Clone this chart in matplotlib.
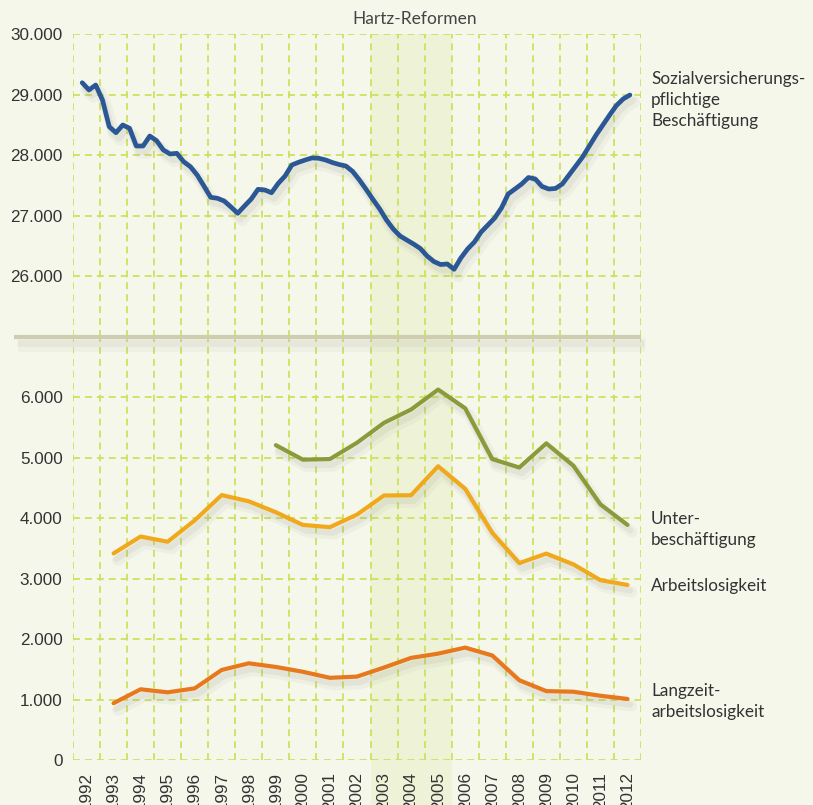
import numpy as np
import matplotlib
matplotlib.use("Agg")
import matplotlib.pyplot as plt
from matplotlib.ticker import FuncFormatter, MultipleLocator
from matplotlib.patches import Rectangle
from matplotlib.lines import Line2D
import matplotlib.patheffects as pe
import matplotlib.transforms as mtransforms

# ---------------- data ----------------
years = list(range(1992, 2013))
# Sozialversicherungspflichtige Beschäftigung (in Tausend), quarterly 1992Q1..2012Q2
beschaeftigung = [
    29203, 29083, 29165, 28917,
    28476, 28377, 28504, 28450,
    28157, 28157, 28322, 28245,
    28091, 28025, 28036, 27898,
    27815, 27678, 27496, 27309,
    27293, 27248, 27149, 27045,
    27165, 27281, 27441, 27430,
    27385, 27540, 27661, 27843,
    27888, 27926, 27960, 27954,
    27926, 27884, 27851, 27826,
    27736, 27595, 27438, 27273,
    27116, 26934, 26785, 26670,
    26603, 26537, 26463, 26339,
    26248, 26198, 26207, 26119,
    26306, 26455, 26570, 26736,
    26851, 26967, 27132, 27364,
    27446, 27529, 27636, 27612,
    27488, 27446, 27455, 27529,
    27678, 27826, 27975, 28157,
    28339, 28504, 28669, 28826,
    28934, 29000,
]
years_al = list(range(1993, 2013))
arbeitslosigkeit = [3419, 3698, 3612, 3965, 4384, 4281, 4100, 3890, 3853, 4061,
                    4377, 4381, 4861, 4487, 3760, 3258, 3415, 3238, 2976, 2897]
langzeit = [940, 1170, 1120, 1185, 1490, 1600, 1540, 1460, 1360, 1380,
            1530, 1690, 1760, 1860, 1730, 1320, 1140, 1130, 1063, 1010]
years_ub = list(range(1999, 2013))
unterbeschaeftigung = [5210, 4970, 4980, 5250, 5580, 5800, 6130, 5820, 4980,
                       4840, 5240, 4870, 4230, 3890]
hartz_years = (2003, 2005)
top_ticks = [26000, 27000, 28000, 29000, 30000]
bottom_ticks = [0, 1000, 2000, 3000, 4000, 5000, 6000]

# quarterly x positions
x_q = years[0] - 0.16 + 0.25 * np.arange(len(beschaeftigung))

# ---------------- style ----------------
plt.rcParams['lines.scale_dashes'] = False
bg = '#f5f7eb'
grid_col = '#cfe060'
txt_col = '#333333'
tick_font = ['Liberation Sans', 'DejaVu Sans']
lab_font = ['Lato', 'DejaVu Sans']

fig = plt.figure(figsize=(8.13, 8.05), dpi=100, facecolor=bg)
L, W = 73 / 813, (641 - 73) / 813
ax_top = fig.add_axes([L, (805 - 337) / 805, W, (337 - 34.5) / 805])
ax_bot = fig.add_axes([L, (805 - 760) / 805, W, (760 - 337) / 805])

fmt = FuncFormatter(lambda v, p: f"{int(v):,}".replace(",", "."))

for ax in (ax_top, ax_bot):
    ax.set_facecolor('none')
    for s in ax.spines.values():
        s.set_visible(False)
    ax.set_xlim(years[0] - 0.5, years[-1] + 0.5)
    ax.xaxis.set_minor_locator(MultipleLocator(1, offset=0.5))
    ax.grid(which='minor', axis='x', color=grid_col, lw=1.3, ls=(0, (5, 3.6)))
    ax.grid(which='major', axis='y', color=grid_col, lw=1.3, ls=(0, (5, 3.6)))
    ax.tick_params(which='both', length=0)
    ax.yaxis.set_major_formatter(fmt)
    ax.set_axisbelow(True)

ax_top.set_ylim(25000, 30000)
ax_top.set_yticks(top_ticks)
ax_top.set_xticks(years)
ax_top.tick_params(axis='x', labelbottom=False)
ax_top.tick_params(axis='y', pad=7.5)

ax_bot.set_ylim(0, 7000)
ax_bot.set_yticks(bottom_ticks)
ax_bot.set_xticks(years)
ax_bot.set_xticklabels([str(y) for y in years], rotation=90)
ax_bot.tick_params(axis='y', pad=7.5)
ax_bot.tick_params(axis='x', pad=8.5)

for ax in (ax_top, ax_bot):
    for lbl in ax.get_xticklabels() + ax.get_yticklabels():
        lbl.set_fontfamily(tick_font)
        lbl.set_fontsize(12.3)
        lbl.set_color(txt_col)

# Hartz band spanning full height below the title
trans = mtransforms.blended_transform_factory(ax_bot.transData, fig.transFigure)
band = Rectangle((hartz_years[0] - 0.5, 0), hartz_years[1] - hartz_years[0] + 1,
                 (805 - 34.5) / 805, transform=trans, facecolor='#eef3d8',
                 edgecolor='none', zorder=-5)
fig.add_artist(band)

# break line between panels
yb = (805 - 337) / 805
brk = Line2D([14 / 813, 641 / 813], [yb, yb], transform=fig.transFigure,
             color='#cfcdb0', lw=3, zorder=3, solid_capstyle='butt',
             path_effects=[pe.SimpleLineShadow(offset=(3, -6), shadow_color='#a0a08c',
                                               alpha=0.08, linewidth=10),
                           pe.SimpleLineShadow(offset=(2, -4), shadow_color='#a0a08c',
                                               alpha=0.1, linewidth=5),
                           pe.Normal()])
fig.add_artist(brk)


def shadow(lw):
    return [pe.SimpleLineShadow(offset=(3, -5), shadow_color='#8a8a78', alpha=0.07,
                                linewidth=lw + 5),
            pe.SimpleLineShadow(offset=(2, -4), shadow_color='#8a8a78', alpha=0.1,
                                linewidth=lw + 1.5),
            pe.Normal()]


ax_top.plot(x_q, beschaeftigung, color='#2b5895', lw=3.4, solid_joinstyle='round',
            solid_capstyle='round', path_effects=shadow(3.4), zorder=4)
ax_bot.plot(years_ub, unterbeschaeftigung, color='#8b9a3b', lw=3.0,
            solid_capstyle='round', path_effects=shadow(3.0), zorder=4)
ax_bot.plot(years_al, arbeitslosigkeit, color='#f0a81c', lw=3.0,
            solid_capstyle='round', path_effects=shadow(3.0), zorder=4)
ax_bot.plot(years_al, langzeit, color='#e8781e', lw=3.0,
            solid_capstyle='round', path_effects=shadow(3.0), zorder=4)

# texts
fig.text(415 / 813, (805 - 19) / 805, 'Hartz-Reformen', ha='center', va='center',
         fontsize=12.5, color='#444444', family=lab_font)
xl = 651 / 813
fig.text(xl, (805 - 100) / 805, 'Sozialversicherungs-\npflichtige\nBeschäftigung',
         ha='left', va='center', fontsize=12.3, color=txt_col, family=lab_font,
         linespacing=1.35)
fig.text(xl, (805 - 529.5) / 805, 'Unter-\nbeschäftigung', ha='left', va='center',
         fontsize=12.3, color=txt_col, family=lab_font, linespacing=1.35)
fig.text(xl, (805 - 586) / 805, 'Arbeitslosigkeit', ha='left', va='center',
         fontsize=12.3, color=txt_col, family=lab_font)
fig.text(xl, (805 - 701.5) / 805, 'Langzeit-\narbeitslosigkeit', ha='left', va='center',
         fontsize=12.3, color=txt_col, family=lab_font, linespacing=1.35)

fig.savefig('out.png', dpi=100, facecolor=bg)
